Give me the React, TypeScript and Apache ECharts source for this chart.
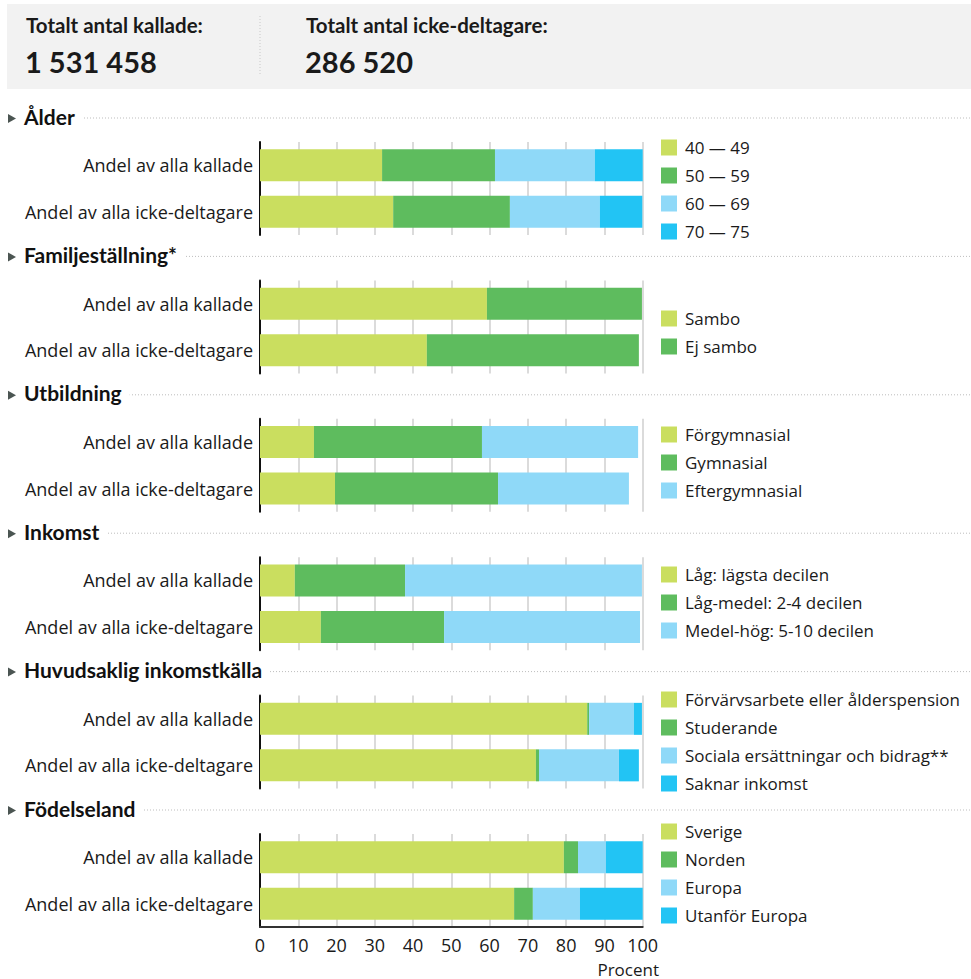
import React, { useEffect, useRef } from "react";
import * as echarts from "echarts";

// Bar categories shared by every panel
const categories = ["Andel av alla kallade", "Andel av alla icke-deltagare"];

// Header totals
const totalKalladeLabel = "Totalt antal kallade:";
const totalKallade = "1 531 458";
const totalIckeLabel = "Totalt antal icke-deltagare:";
const totalIcke = "286 520";

// Ålder
const alderNames = ["40 — 49", "50 — 59", "60 — 69", "70 — 75"];
const alderKallade = [31.9, 29.5, 26.1, 12.5];
const alderIcke = [34.8, 30.5, 23.5, 11.1];

// Familjeställning
const familjNames = ["Sambo", "Ej sambo"];
const familjKallade = [59.3, 40.5];
const familjIcke = [43.6, 55.4];

// Utbildning
const utbNames = ["Förgymnasial", "Gymnasial", "Eftergymnasial"];
const utbKallade = [14.1, 43.9, 40.8];
const utbIcke = [19.6, 42.6, 34.2];

// Inkomst
const inkNames = ["Låg: lägsta decilen", "Låg-medel: 2-4 decilen", "Medel-hög: 5-10 decilen"];
const inkKallade = [9.1, 28.8, 61.9];
const inkIcke = [15.9, 32.2, 51.2];

// Huvudsaklig inkomstkälla
const kallaNames = [
  "Förvärvsarbete eller ålderspension",
  "Studerande",
  "Sociala ersättningar och bidrag**",
  "Saknar inkomst",
];
const kallaKallade = [85.5, 0.5, 11.7, 2.1];
const kallaIcke = [72.1, 0.8, 20.9, 5.2];

// Födelseland
const fodNames = ["Sverige", "Norden", "Europa", "Utanför Europa"];
const fodKallade = [79.4, 3.7, 7.3, 9.6];
const fodIcke = [66.4, 4.9, 12.3, 16.4];

// Axis ticks
const axisMin = 0;
const axisMax = 100;
const axisStep = 10;
const axisTitle = "Procent";

const palette = ["#cade5f", "#5ebc5e", "#8fd9f8", "#22c4f4"];

const panels = [
  { title: "Ålder", names: alderNames, kallade: alderKallade, icke: alderIcke },
  { title: "Familjeställning*", names: familjNames, kallade: familjKallade, icke: familjIcke },
  { title: "Utbildning", names: utbNames, kallade: utbKallade, icke: utbIcke },
  { title: "Inkomst", names: inkNames, kallade: inkKallade, icke: inkIcke },
  { title: "Huvudsaklig inkomstkälla", names: kallaNames, kallade: kallaKallade, icke: kallaIcke },
  { title: "Födelseland", names: fodNames, kallade: fodKallade, icke: fodIcke },
];

// Layout
const FONT = "'Open Sans'";
const BOLD = "Lato";
const TEXT = "#1a1a1a";
const gridLeft = 260;
const gridWidth = 382.7;
const gridTops = [142, 280.4, 418.8, 557.2, 695.6, 834];
const gridHeight = 93;
const legendTops = [139, 310, 426, 566, 691, 823];

export default function App() {
  const ref = useRef<HTMLDivElement>(null);

  useEffect(() => {
    if (!ref.current) return;
    const chart = echarts.init(ref.current, null, { renderer: "svg" });
    const last = panels.length - 1;

    const grid = panels.map((_, i) => ({
      left: gridLeft,
      width: gridWidth,
      top: gridTops[i],
      height: gridHeight,
      containLabel: false,
    }));

    const xAxis = panels.map((_, i) => ({
      type: "value",
      gridIndex: i,
      min: axisMin,
      max: axisMax,
      interval: axisStep,
      axisTick: { show: false },
      axisLine: { show: i === last, lineStyle: { color: "#333", width: 2 } },
      axisLabel: {
        show: i === last,
        fontFamily: FONT,
        fontSize: 18,
        color: TEXT,
        margin: 9,
      },
      splitLine: { show: true, lineStyle: { color: "#cfcfcf", width: 1.5 } },
    }));

    const yAxis = panels.map((_, i) => ({
      type: "category",
      gridIndex: i,
      data: categories,
      inverse: true,
      axisTick: { show: false },
      axisLine: { show: true, lineStyle: { color: "#111", width: 2 } },
      axisLabel: { fontFamily: FONT, fontSize: 18, color: TEXT, margin: 7 },
      splitLine: { show: false },
    }));

    const series: any[] = [];
    panels.forEach((p, i) => {
      p.names.forEach((name, j) => {
        series.push({
          type: "bar",
          name,
          xAxisIndex: i,
          yAxisIndex: i,
          stack: "panel" + i,
          barWidth: 32,
          data: [p.kallade[j], p.icke[j]],
          itemStyle: { color: palette[j] },
          emphasis: { disabled: true },
        });
      });
    });

    const legend = panels.map((p, i) => ({
      data: p.names,
      orient: "vertical",
      left: 661,
      top: legendTops[i],
      padding: 0,
      itemWidth: 16,
      itemHeight: 16,
      itemGap: 11,
      icon: "rect",
      selectedMode: false,
      textStyle: {
        fontFamily: FONT,
        fontSize: 17,
        color: TEXT,
        lineHeight: 16,
        padding: [0, 0, 0, 3],
      },
    }));

    const graphic: any[] = [
      {
        type: "rect",
        shape: { x: 7, y: 4, width: 964, height: 85 },
        style: { fill: "#f2f2f2" },
        silent: true,
      },
      {
        type: "line",
        shape: { x1: 260, y1: 16, x2: 260, y2: 76 },
        style: { stroke: "#c8c8c8", lineWidth: 1, lineDash: [1, 2] },
        silent: true,
      },
      {
        type: "text",
        x: 26,
        y: 35,
        style: { text: totalKalladeLabel, font: `bold 20.5px ${BOLD}`, fill: TEXT, textVerticalAlign: "bottom" },
      },
      {
        type: "text",
        x: 25,
        y: 76,
        style: { text: totalKallade, font: `bold 29px ${BOLD}`, fill: TEXT, textVerticalAlign: "bottom" },
      },
      {
        type: "text",
        x: 306,
        y: 35,
        style: { text: totalIckeLabel, font: `bold 20.5px ${BOLD}`, fill: TEXT, textVerticalAlign: "bottom" },
      },
      {
        type: "text",
        x: 305,
        y: 76,
        style: { text: totalIcke, font: `bold 29px ${BOLD}`, fill: TEXT, textVerticalAlign: "bottom" },
      },
      {
        type: "text",
        x: 659,
        y: 969,
        style: {
          text: axisTitle,
          font: `17px ${FONT}`,
          fill: TEXT,
          textAlign: "right",
          textVerticalAlign: "middle",
        },
      },
    ];

    panels.forEach((p, i) => {
      const c = gridTops[i] - 24;
      graphic.push(
        {
          type: "line",
          shape: { x1: 24, y1: c, x2: 971, y2: c },
          style: { stroke: "#bdbdbd", lineWidth: 1, lineDash: [1, 2] },
          silent: true,
        },
        {
          type: "polygon",
          shape: { points: [[8, c - 4], [8, c + 5], [16, c + 0.5]] },
          style: { fill: "#4b5552" },
          silent: true,
        },
        {
          type: "text",
          x: 24,
          y: c - 2,
          style: {
            text: p.title,
            font: `bold 21px ${BOLD}`,
            fill: "#111",
            textVerticalAlign: "middle",
            backgroundColor: "#ffffff",
            padding: [0, 8, 0, 0],
          },
        }
      );
    });

    chart.setOption({
      animation: false,
      backgroundColor: "#ffffff",
      grid,
      xAxis,
      yAxis,
      series,
      legend,
      graphic,
    });

    return () => chart.dispose();
  }, []);

  return (
    <div
      ref={ref}
      style={{ position: "fixed", left: 0, top: 0, width: 971, height: 979 }}
    />
  );
}
